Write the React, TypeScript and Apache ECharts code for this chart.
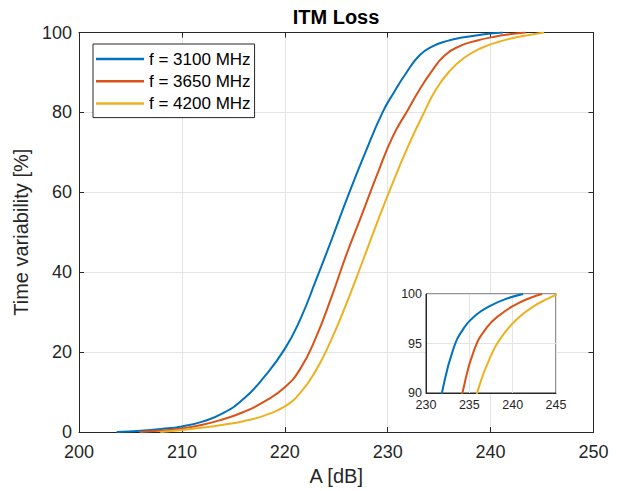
import React, { useEffect, useRef } from "react";
import * as echarts from "echarts";

const seriesNames = ["f = 3100 MHz", "f = 3650 MHz", "f = 4200 MHz"];
const seriesColors = ["#0072BD", "#D95319", "#EDB120"];

const curve3100: [number, number][] = [
  [203.66, 0], [206, 0.3], [208, 0.75], [210, 1.4], [212, 2.6], [214, 4.7], [216, 8.3],
  [218, 13.8], [220, 20.8], [221.5, 28.2], [223, 37.8], [224.6, 48.5], [226.2, 59.5],
  [227.8, 69.8], [229.5, 80], [230.6, 85], [231.7, 89.5], [233.1, 94.3], [234.4, 96.6],
  [235.8, 97.9], [237.4, 98.8], [239.2, 99.5], [241.2, 100],
];
const curve3650: [number, number][] = [
  [205.9, 0], [208, 0.35], [210, 0.9], [212, 1.8], [214, 3.2], [216, 5], [218, 7.6],
  [220, 11.2], [221.5, 15.8], [223, 23.5], [224.5, 33.5], [226, 44.5], [227.5, 54.5],
  [229, 64.6], [230.5, 74], [232, 80.8], [233, 85.3], [234.2, 90], [235.5, 94.2],
  [237, 96.6], [238.7, 98], [240.5, 99], [242, 99.6], [243.4, 100],
];
const curve4200: [number, number][] = [
  [207.9, 0], [210, 0.5], [212, 1.1], [214, 1.8], [216, 2.7], [218, 4.1], [220, 6.4],
  [221.5, 9.8], [223, 15.3], [224.5, 23], [226, 32.2], [227.5, 42.3], [229, 52.6],
  [230.5, 62.4], [232, 71.6], [233.5, 79.8], [234.7, 85.8], [236, 90.3], [237.4, 93.6],
  [239, 96], [240.8, 97.7], [242.5, 98.8], [244, 99.5], [245.2, 100],
];
const curves = [curve3100, curve3650, curve4200];

const mainXTicks = { min: 200, max: 250, interval: 10 };
const mainYTicks = { min: 0, max: 100, interval: 20 };
const insetXTicks = { min: 230, max: 245, interval: 5 };
const insetYTicks = { min: 90, max: 100, interval: 5 };

const FONT = "Liberation Sans, Arial, Helvetica, sans-serif";
const AX = "#262626";
const GRIDC = "#e4e4e4";

export default function App() {
  const ref = useRef<HTMLDivElement>(null);
  useEffect(() => {
    if (!ref.current) return;
    const chart = echarts.init(ref.current, null, { renderer: "svg" });
    const lineAx = { show: true, onZero: false, lineStyle: { color: AX, width: 1 } };
    const tickIn = { show: true, inside: true, length: 5, lineStyle: { color: AX } };
    const mainX = {
      type: "value", gridIndex: 0, ...mainXTicks,
      name: "A [dB]", nameLocation: "middle", nameGap: 34,
      nameTextStyle: { fontSize: 20, color: AX, fontFamily: FONT },
      axisLine: lineAx, axisTick: tickIn,
      axisLabel: { fontSize: 18, color: AX, fontFamily: FONT, margin: 11 },
      splitLine: { show: true, lineStyle: { color: GRIDC } },
      z: 0,
    };
    const mainXTop = {
      type: "value", gridIndex: 0, ...mainXTicks, position: "top",
      axisLine: lineAx, axisTick: tickIn,
      axisLabel: { show: false }, splitLine: { show: false }, z: 0,
    };
    const mainY = {
      type: "value", gridIndex: 0, ...mainYTicks,
      name: "Time variability [%]", nameLocation: "middle", nameGap: 43,
      nameTextStyle: { fontSize: 20, color: AX, fontFamily: FONT },
      axisLine: lineAx, axisTick: tickIn,
      axisLabel: { fontSize: 18, color: AX, fontFamily: FONT, margin: 7 },
      splitLine: { show: true, lineStyle: { color: GRIDC } },
      z: 0,
    };
    const mainYRight = {
      type: "value", gridIndex: 0, ...mainYTicks, position: "right",
      axisLine: lineAx, axisTick: tickIn,
      axisLabel: { show: false }, splitLine: { show: false }, z: 0,
    };
    const insetX = {
      type: "value", gridIndex: 1, ...insetXTicks,
      axisLine: lineAx, axisTick: { show: false },
      axisLabel: { fontSize: 12.5, color: AX, fontFamily: FONT, margin: 5 },
      splitLine: { show: true, lineStyle: { color: GRIDC } },
      z: 5,
    };
    const insetY = {
      type: "value", gridIndex: 1, ...insetYTicks,
      axisLine: lineAx, axisTick: { show: false },
      axisLabel: { fontSize: 12.5, color: AX, fontFamily: FONT, margin: 4 },
      splitLine: { show: true, lineStyle: { color: GRIDC } },
      z: 5,
    };
    const mk = (d: [number, number][], i: number, xi: number, z: number) => ({
      name: seriesNames[i], type: "line", xAxisIndex: xi, yAxisIndex: xi,
      data: d, smooth: 0.5, symbol: "none", z, clip: true,
      lineStyle: { width: 2, color: seriesColors[i] }, itemStyle: { color: seriesColors[i] },
    });
    const mainSeries = curves.map((d, i) => mk(d, i, 0, 2));
    const insetSeries = curves.map((d, i) => mk(d, i, 2, 6));
    chart.setOption({
      animation: false,
      backgroundColor: "#ffffff",
      textStyle: { fontFamily: FONT },
      graphic: [
        {
          type: "text", x: 336, y: 17, z: 10,
          style: { text: "ITM Loss", fontSize: 20, fontWeight: "bold", fill: "#000", fontFamily: FONT, textAlign: "center", textVerticalAlign: "middle" },
        },
      ],
      legend: {
        orient: "vertical", left: 93, top: 44, itemWidth: 48, itemHeight: 2.5, itemGap: 2.3,
        icon: "rect",
        padding: [5, 4, 4, 3], borderColor: AX, borderWidth: 1, backgroundColor: "#fff",
        textStyle: { fontSize: 17, lineHeight: 20, color: "#000", fontFamily: FONT },
        data: seriesNames, z: 10,
      },
      grid: [
        { left: 79, right: 26.5, top: 32.5, bottom: 57.5, show: false },
        { left: 426, top: 294, width: 130, height: 99, show: true, backgroundColor: "#ffffff", borderColor: AX, borderWidth: 1, z: 4 },
      ],
      xAxis: [mainX, mainXTop, insetX],
      yAxis: [mainY, mainYRight, insetY],
      series: [...mainSeries, ...insetSeries],
    });
    return () => chart.dispose();
  }, []);
  return <div ref={ref} style={{ position: "absolute", left: 0, top: 0, width: 620, height: 491 }} />;
}
